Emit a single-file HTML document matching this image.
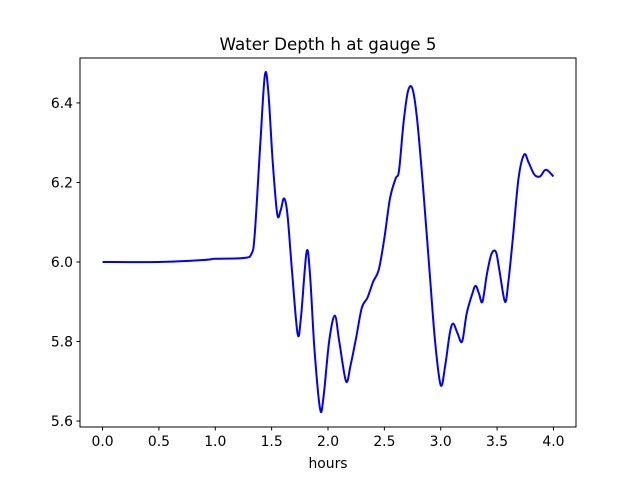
<!DOCTYPE html>
<html><head><meta charset="utf-8"><style>
body{margin:0;background:#fff}
svg{display:block;font-family:"DejaVu Sans","Liberation Sans",sans-serif}
</style></head><body>
<svg id="chart" width="640" height="480">
<rect width="640" height="480" fill="#fff"/>
<text x="328" y="50" font-size="16.7" text-anchor="middle">Water Depth h at gauge 5</text>
<text x="328" y="468" font-size="13.9" text-anchor="middle">hours</text>
<g id="ticks"></g>
<path id="line" fill="none" stroke="#0000ff" stroke-width="2" stroke-linejoin="round"/>
<rect x="80" y="58" width="496" height="369" fill="none" stroke="#000" stroke-width="1"/>
</svg>
<script>
const hours=[0,0.5,0.9,1.0,1.25,1.32,1.35,1.40,1.44,1.47,1.51,1.55,1.58,1.61,1.64,1.68,1.73,1.76,1.81,1.84,1.88,1.93,1.96,2.01,2.06,2.10,2.16,2.20,2.25,2.30,2.35,2.40,2.45,2.50,2.55,2.60,2.63,2.67,2.71,2.75,2.79,2.84,2.90,2.95,3.00,3.04,3.08,3.11,3.15,3.19,3.23,3.28,3.31,3.34,3.37,3.41,3.45,3.49,3.52,3.57,3.60,3.64,3.69,3.74,3.78,3.83,3.88,3.92,3.95,4.0];
const depth=[6.0,6.0,6.005,6.008,6.01,6.02,6.07,6.3,6.47,6.43,6.25,6.12,6.13,6.16,6.12,5.98,5.82,5.86,6.025,5.97,5.78,5.63,5.66,5.80,5.865,5.80,5.70,5.74,5.81,5.885,5.91,5.95,5.98,6.06,6.16,6.21,6.23,6.35,6.43,6.435,6.36,6.20,5.98,5.80,5.69,5.74,5.82,5.845,5.82,5.80,5.87,5.92,5.94,5.92,5.90,5.97,6.02,6.025,5.98,5.90,5.95,6.06,6.21,6.27,6.25,6.22,6.215,6.23,6.23,6.215];
const xTicks=[0,0.5,1.0,1.5,2.0,2.5,3.0,3.5,4.0];
const xTickLabels=["0.0","0.5","1.0","1.5","2.0","2.5","3.0","3.5","4.0"];
const yTicks=[5.6,5.8,6.0,6.2,6.4];
const yTickLabels=["5.6","5.8","6.0","6.2","6.4"];
const X=v=>80+(v+0.2)/4.4*496;
const Y=v=>58+(6.513-v)/(6.513-5.585)*369;
const NS="http://www.w3.org/2000/svg";
const g=document.getElementById('ticks');
function mk(t,a){const e=document.createElementNS(NS,t);for(const k in a)e.setAttribute(k,a[k]);g.appendChild(e);return e;}
xTicks.forEach((v,i)=>{
 const l=mk('line',{x1:X(v),x2:X(v),y1:427,y2:430.5,stroke:'#000'});
 
 
 const t=mk('text',{x:X(v),y:446,'font-size':13.9,'text-anchor':'middle'});t.textContent=xTickLabels[i];
 
 
});
yTicks.forEach((v,i)=>{
 const l=mk('line',{x1:76.5,x2:80,y1:Y(v),y2:Y(v),stroke:'#000'});
 
 
 const t=mk('text',{x:73,y:Y(v)+5,'font-size':13.9,'text-anchor':'end'});t.textContent=yTickLabels[i];
 
 
});
const p=hours.map((h,i)=>[X(h),Y(depth[i])]);
let d='M'+p[0][0]+','+p[0][1];
for(let i=0;i<p.length-1;i++){
 const p0=p[Math.max(i-1,0)],p1=p[i],p2=p[i+1],p3=p[Math.min(i+2,p.length-1)];
 const c1=[p1[0]+(p2[0]-p0[0])/6,p1[1]+(p2[1]-p0[1])/6];
 const c2=[p2[0]-(p3[0]-p1[0])/6,p2[1]-(p3[1]-p1[1])/6];
 d+=' C'+c1[0]+','+c1[1]+' '+c2[0]+','+c2[1]+' '+p2[0]+','+p2[1];
}
document.getElementById('line').setAttribute('d',d);
</script>
</body></html>
